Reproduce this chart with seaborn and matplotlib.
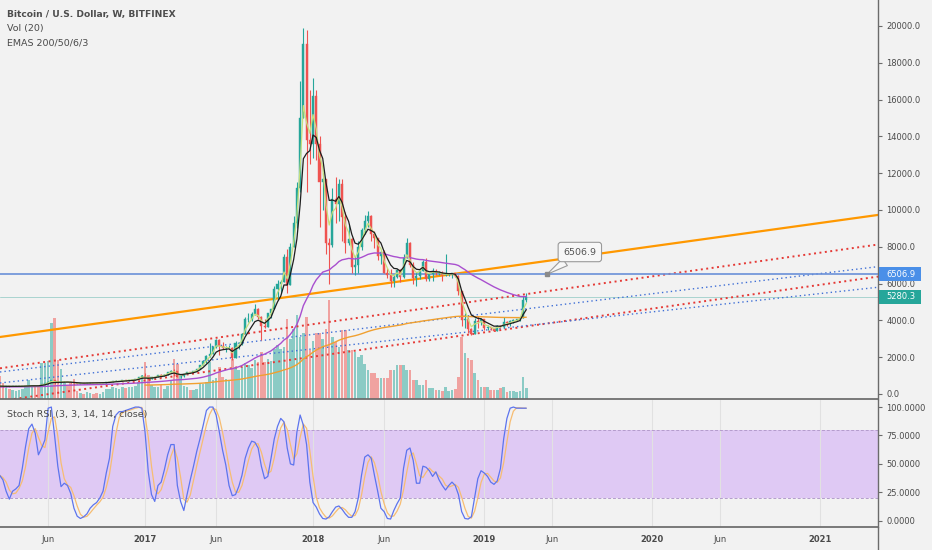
import numpy as np
import pandas as pd
import matplotlib
matplotlib.use("Agg")
import matplotlib.pyplot as plt
import matplotlib.dates as mdates
import matplotlib.transforms as mtransforms
from matplotlib.patches import Rectangle
from matplotlib.lines import Line2D
import seaborn as sns

# ---------------- data (weekly BTCUSD, Bitfinex) ----------------
first_week = "2016-02-22"
first_open = 438.0

closes = [432, 405, 412, 410, 416, 420, 420, 428, 450, 460,
          460, 455, 440, 525, 575, 670, 760, 665, 640, 650,
          665, 655, 625, 590, 570, 580, 575, 605, 610, 608,
          605, 610, 615, 640, 655, 700, 705, 705, 740, 735,
          765, 770, 790, 900, 1000, 905, 820, 920, 920, 1020,
          1000, 1050, 1170, 1270, 1240, 970, 970, 1100, 1190, 1170,
          1250, 1340, 1570, 1770, 2050, 2200, 2550, 2950, 2600, 2500,
          2500, 2500, 1960, 2750, 2750, 3250, 4050, 4100, 4350, 4600,
          4200, 3700, 3650, 4380, 4600, 5700, 6000, 6100, 7450, 5900,
          8000, 9300, 11200, 15000, 19000, 13800, 13600, 16200, 13600, 11500,
          11700, 8200, 8100, 10600, 10300, 11400, 9600, 8200, 8400, 6900,
          7000, 8000, 8900, 9400, 9700, 8700, 8500, 7500, 7700, 6550,
          6450, 6150, 6350, 6750, 6350, 7400, 8200, 7000, 6300, 6400,
          6700, 7200, 6250, 6500, 6700, 6600, 6600, 6450, 6500, 6500,
          6550, 6400, 5600, 4000, 4100, 3550, 3250, 3950, 3900, 4050,
          3600, 3650, 3570, 3450, 3700, 3650, 3900, 3850, 3950, 4000,
          4050, 4150, 5100, 5280.3]

highs = [445, 440, 420, 420, 420, 425, 425, 432, 460, 470,
         465, 460, 458, 530, 590, 700, 780, 765, 700, 680,
         680, 675, 660, 625, 600, 590, 590, 615, 625, 615,
         610, 615, 620, 645, 660, 730, 750, 720, 755, 750,
         770, 775, 795, 930, 1010, 1150, 920, 930, 930, 1030,
         1070, 1060, 1200, 1290, 1350, 1250, 1060, 1110, 1200, 1210,
         1260, 1350, 1600, 1800, 2100, 2760, 2600, 3000, 3000, 2800,
         2600, 2650, 2550, 2900, 2800, 3300, 4200, 4400, 4450, 4900,
         4700, 4250, 4100, 4400, 4620, 5850, 6200, 6200, 7600, 7900,
         8200, 9700, 11500, 17000, 19900, 19800, 16500, 17200, 16500, 14000,
         12000, 11700, 8500, 11200, 11800, 11700, 11700, 9900, 9200, 8500,
         7500, 8300, 9000, 9750, 9950, 9750, 8850, 8500, 7750, 7800,
         6850, 6800, 6500, 6800, 6780, 7600, 8500, 8250, 7150, 6650,
         6800, 7300, 7400, 6600, 6850, 6800, 6700, 6680, 7600, 6550,
         6600, 6550, 6450, 5600, 4400, 4200, 3600, 4150, 4250, 4100,
         4100, 3750, 3650, 3600, 3730, 3750, 4200, 3950, 4000, 4050,
         4100, 4200, 5350, 5500]

lows = [405, 400, 403, 406, 408, 412, 415, 418, 425, 445,
        442, 448, 436, 438, 520, 570, 665, 555, 610, 610,
        640, 645, 615, 480, 565, 565, 570, 565, 600, 600,
        590, 598, 605, 610, 630, 650, 685, 695, 695, 720,
        725, 755, 765, 790, 890, 880, 750, 805, 880, 915,
        940, 990, 1050, 1150, 1000, 950, 890, 950, 1080, 1150,
        1170, 1240, 1340, 1560, 1700, 2000, 2150, 2500, 2100, 2450,
        2300, 2450, 1850, 1950, 2450, 2650, 3250, 3900, 3950, 4300,
        4050, 2950, 3600, 3650, 4150, 4600, 5100, 5500, 6100, 5500,
        5900, 8000, 9000, 11000, 15000, 11000, 12500, 12800, 12700, 9100,
        10000, 7600, 6000, 8000, 9300, 9400, 8300, 7650, 8100, 6600,
        6450, 6600, 7800, 8700, 9050, 8300, 7950, 7300, 7050, 6550,
        6300, 5800, 5800, 6300, 6100, 6300, 7400, 6900, 6000, 5880,
        6250, 6700, 6150, 6150, 6150, 6450, 6450, 6150, 6400, 6400,
        6300, 6350, 5400, 3700, 3600, 3300, 3200, 3250, 3600, 3750,
        3500, 3480, 3500, 3400, 3400, 3600, 3600, 3700, 3700, 3880,
        3950, 3950, 4130, 5000]

# weekly volume (thousand BTC)
volumes = [23, 16, 11, 10, 9, 8, 9, 10, 12, 19,
           12, 12, 14, 36, 36, 38, 76, 81, 39, 30,
           16, 14, 16, 20, 8, 6, 5, 7, 6, 5,
           6, 5, 7, 10, 10, 12, 11, 10, 12, 11,
           12, 12, 13, 17, 24, 37, 24, 14, 12, 12,
           14, 10, 13, 19, 40, 35, 24, 13, 12, 9,
           9, 10, 16, 15, 17, 37, 19, 21, 32, 22,
           20, 19, 40, 32, 29, 32, 36, 34, 31, 39,
           37, 47, 37, 40, 38, 50, 54, 50, 52, 80,
           60, 70, 84, 62, 66, 82, 49, 58, 66, 66,
           60, 70, 99, 62, 57, 52, 69, 69, 49, 49,
           47, 42, 44, 35, 29, 26, 26, 21, 21, 21,
           21, 29, 29, 34, 34, 34, 29, 29, 19, 19,
           14, 14, 19, 11, 11, 9, 9, 8, 12, 8,
           9, 10, 22, 62, 46, 41, 39, 26, 19, 12,
           12, 12, 9, 9, 9, 11, 12, 7, 8, 8,
           7, 8, 22, 11]

# Stoch RSI %K
stoch_k = [40, 36, 26, 19, 26, 28, 31, 46, 65, 81,
           85, 77, 58, 64, 71, 99, 100, 75, 48, 30,
           33, 31, 24, 11, 4, 2, 3.5, 6, 11, 14,
           16, 20, 26, 42, 55, 83, 93, 96, 96, 97,
           98, 99, 100, 100, 99, 78, 43, 23, 17, 31,
           34, 45, 58, 67, 67, 31, 17, 9, 23, 36,
           48, 61, 72, 84, 97, 100, 100, 93, 78, 62,
           49, 31, 22, 23, 30, 40, 55, 64, 70, 69,
           64, 48, 37, 39, 55, 72, 83, 90, 87, 64,
           50, 49, 78, 93, 84, 67, 34, 16, 12, 6,
           2, 1.5, 3.5, 8, 12, 13, 10, 6, 3, 3,
           8, 20, 40, 56, 58, 55, 40, 26, 11, 8,
           2, 1.5, 9, 15, 20, 46, 62, 64, 53, 33,
           33, 48, 47, 44, 39, 43, 36, 31, 27, 31,
           34, 31, 23, 8, 2, 1.5, 3.5, 20, 37, 44,
           42, 39, 34, 32, 35, 46, 72, 90, 99, 100,
           99, 99, 99, 99]

# EMA seeds (indicator value carried in from history before the first visible bar)
ema200_start_index = 45
ema200_seed = 478.0
ema50_seed = 380.0
ema6_seed = 425.0
ema3_seed = 430.0

# trend lines drawn on the chart: (date, price) anchor pairs
anchor_dates = ["2017-01-02", "2019-01-07"]
orange_trend = [4194, 6757]
red_upper = [2508, 5107]
blue_upper = [2142, 4354]
blue_lower = [1458, 3468]
red_lower = [736, 3348]

h_level = 6506.9
last_price = 5280.3
callout_date = "2019-05-23"
callout_text_date = "2019-08-02"
callout_text_price = 7717

price_ticks = [0, 2000, 4000, 6000, 8000, 10000, 12000, 14000, 16000, 18000, 20000]
stoch_ticks = [0, 25, 50, 75, 100]
tick_dates = ["2016-06-06", "2017-01-02", "2017-06-05", "2018-01-01", "2018-06-04",
              "2019-01-07", "2019-06-03", "2020-01-06", "2020-06-01", "2021-01-04"]
tick_labels = ["Jun", "2017", "Jun", "2018", "Jun", "2019", "Jun", "2020", "Jun", "2021"]

# ---------------- derived series ----------------
weeks = pd.date_range(first_week, periods=len(closes), freq="W-MON")
x = mdates.date2num(weeks.to_pydatetime())
c = np.array(closes, float)
h = np.array(highs, float)
l = np.array(lows, float)
o = np.concatenate([[first_open], c[:-1]])
up = c >= o


def ema(values, span, seed):
    s = pd.Series([seed] + list(values), dtype=float)
    return s.ewm(span=span, adjust=False).mean().to_numpy()[1:]


ema200 = ema(c[ema200_start_index:], 200, ema200_seed)
ema50 = ema(c, 50, ema50_seed)
ema6 = ema(c, 6, ema6_seed)
ema3 = ema(c, 3, ema3_seed)
k = pd.Series(stoch_k, dtype=float)
d = k.rolling(3, min_periods=1).mean()

# ---------------- styling ----------------
BG = "#f2f2f2"
TXT = "#4a4a4a"
UP = "#26a69a"
DN = "#ef5350"
sns.set_theme(style="white")
plt.rcParams["font.family"] = ["DejaVu Sans"]
plt.rcParams["axes.facecolor"] = BG

W, H = 932, 550
fig = plt.figure(figsize=(W / 100, H / 100), dpi=100, facecolor=BG)
RX = 878 / W
ax = fig.add_axes([0, 1 - 399 / H, RX, 399 / H])
axs = fig.add_axes([0, 1 - 527 / H, RX, 127 / H], sharex=ax)

axv = ax.twinx()
ax.set_zorder(axv.get_zorder() + 1)
ax.patch.set_visible(False)
axv.set_facecolor(BG)
axs.set_facecolor(BG)

x_left = mdates.date2num(pd.Timestamp("2016-02-22 18:00").to_pydatetime())
x_right = mdates.date2num(pd.Timestamp("2021-05-09").to_pydatetime())
ax.set_xlim(x_left, x_right)

# price scale: 20000 at y=26px, 0 at y=394px of the 399px pane
ax.set_ylim(-272, 21413)
axv.set_ylim(0, 399)
axs.set_ylim(-5.5, 106.2)

# volume
vcol = np.where(up, UP, DN)
axv.bar(x, volumes, width=5.6, color=vcol, alpha=0.5, linewidth=0)
axv.set_yticks([])
for sp in axv.spines.values():
    sp.set_visible(False)

# grid
tx = mdates.date2num(pd.to_datetime(tick_dates).to_pydatetime())
ax.set_xticks(tx)
axv.grid(axis="x", color="#e1e1e1", lw=0.8)
axs.grid(axis="x", color="#e1e1e1", lw=0.8)
axv.set_axisbelow(True)
axs.set_axisbelow(True)

# trend lines
ad = mdates.date2num(pd.to_datetime(anchor_dates).to_pydatetime())
ax.axline((ad[0], orange_trend[0]), (ad[1], orange_trend[1]), color="#ff9800", lw=1.6, zorder=2)
for prices, col, lw, dash in [(red_upper, "#e53935", 1.4, (1, 1.8)),
                              (red_lower, "#e53935", 1.4, (1, 1.8)),
                              (blue_upper, "#3f6fd6", 1.0, (1, 2.2)),
                              (blue_lower, "#3f6fd6", 1.0, (1, 2.2))]:
    ax.axline((ad[0], prices[0]), (ad[1], prices[1]), color=col, lw=lw,
              linestyle=(0, dash), zorder=2)

ax.axhline(h_level, color="#6a90d8", lw=1.2, zorder=2)
ax.axhline(last_price, color="#a9d4cf", lw=0.7, zorder=1)

# candles
ccol = np.where(up, UP, DN)
ax.vlines(x, l, h, colors=ccol, lw=0.8, zorder=3)
body_lo = np.minimum(o, c)
body_h = np.abs(c - o)
ax.bar(x, body_h, bottom=body_lo, width=4.4, color=ccol, edgecolor=ccol, linewidth=0.3, zorder=4)

# EMAs
sns.lineplot(x=x[ema200_start_index:], y=ema200, ax=ax, color="#f0a030", lw=1.0, zorder=5)
sns.lineplot(x=x, y=ema50, ax=ax, color="#a94fcf", lw=1.0, zorder=5)
sns.lineplot(x=x, y=ema3, ax=ax, color="#c6df7c", lw=0.9, zorder=5)
sns.lineplot(x=x, y=ema6, ax=ax, color="#1e1e1e", lw=0.9, zorder=6)

# callout
cx = mdates.date2num(pd.Timestamp(callout_date).to_pydatetime())
ctx = mdates.date2num(pd.Timestamp(callout_text_date).to_pydatetime())
ax.annotate(f"{h_level:.1f}", xy=(cx, h_level), xytext=(ctx, callout_text_price),
            fontsize=6.8, color="#555555", ha="center", va="center", zorder=8,
            bbox=dict(boxstyle="round,pad=0.55,rounding_size=0.3", fc="#f7f7f7", ec="#9a9a9a", lw=0.8),
            arrowprops=dict(arrowstyle="wedge,tail_width=0.9,shrink_factor=0.5",
                            fc="#f7f7f7", ec="#9a9a9a", lw=0.8, shrinkA=0, shrinkB=0))
ax.plot([cx], [h_level], marker="s", ms=2.5, color="#8a8a8a", zorder=9)

# stoch RSI pane
axs.axhspan(20, 80, color="#dfc9f4", lw=0, zorder=0)
axs.axhline(80, color="#b49ccc", lw=0.7, linestyle=(0, (3, 2)))
axs.axhline(20, color="#b49ccc", lw=0.7, linestyle=(0, (3, 2)))
sns.lineplot(x=x, y=d.to_numpy(), ax=axs, color="#f7bd72", lw=0.9)
sns.lineplot(x=x, y=k.to_numpy(), ax=axs, color="#5d74ee", lw=0.9)

# axes / ticks
for a in (ax, axs):
    a.yaxis.tick_right()
    a.spines["left"].set_visible(False)
    a.spines["right"].set_color("#6b6b6b")
    a.spines["right"].set_linewidth(1.0)
    a.tick_params(axis="y", direction="out", length=3, width=0.8, color="#6b6b6b",
                  labelsize=6.0, labelcolor=TXT, pad=3)
ax.spines["top"].set_visible(False)
ax.spines["bottom"].set_color("#6b6b6b")
axs.spines["top"].set_visible(False)
axs.spines["bottom"].set_color("#6b6b6b")

ax.set_yticks(price_ticks)
ax.set_yticklabels([f"{v:.1f}" for v in price_ticks])
axs.set_yticks(stoch_ticks)
axs.set_yticklabels([f"{v:.4f}" for v in stoch_ticks])
ax.tick_params(axis="x", bottom=False, labelbottom=False)
axv.tick_params(axis="x", bottom=False, labelbottom=False)
axs.set_xticks(tx)
axs.set_xticklabels(tick_labels)
axs.tick_params(axis="x", length=0, labelsize=6.0, labelcolor=TXT, pad=6)
for lab in axs.get_xticklabels():
    if lab.get_text().isdigit():
        lab.set_fontweight("bold")
for a in (ax, axs, axv):
    a.set_xlabel("")
    a.set_ylabel("")

# right-axis price labels
blend = mtransforms.blended_transform_factory(ax.transAxes, ax.transData)
for price, col in [(h_level, "#4a8fe8"), (last_price, UP)]:
    ax.add_patch(Rectangle((1.001, price - 380), 0.0485, 760, transform=blend,
                           facecolor=col, edgecolor="none", clip_on=False, zorder=10))
    ax.text(1.0095, price, f"{price:.1f}", transform=blend, ha="left", va="center",
            fontsize=6.0, color="white", clip_on=False, zorder=11)

# legend texts
fig.text(7 / W, 1 - 14 / H, "Bitcoin / U.S. Dollar, W, BITFINEX", fontsize=6.6,
         fontweight="bold", color="#4d4d4d", va="center", ha="left")
fig.text(7 / W, 1 - 29 / H, "Vol (20)", fontsize=6.8, color=TXT, va="center", ha="left")
fig.text(7 / W, 1 - 43 / H, "EMAS 200/50/6/3", fontsize=6.8, color=TXT, va="center", ha="left")
fig.text(7 / W, 1 - 414 / H, "Stoch RSI (3, 3, 14, 14, close)", fontsize=6.8, color=TXT,
         va="center", ha="left")

fig.add_artist(Line2D([RX, RX], [0, 23 / H], color="#6b6b6b", lw=1.0, transform=fig.transFigure))

fig.savefig("out.png", dpi=100, facecolor=BG)
